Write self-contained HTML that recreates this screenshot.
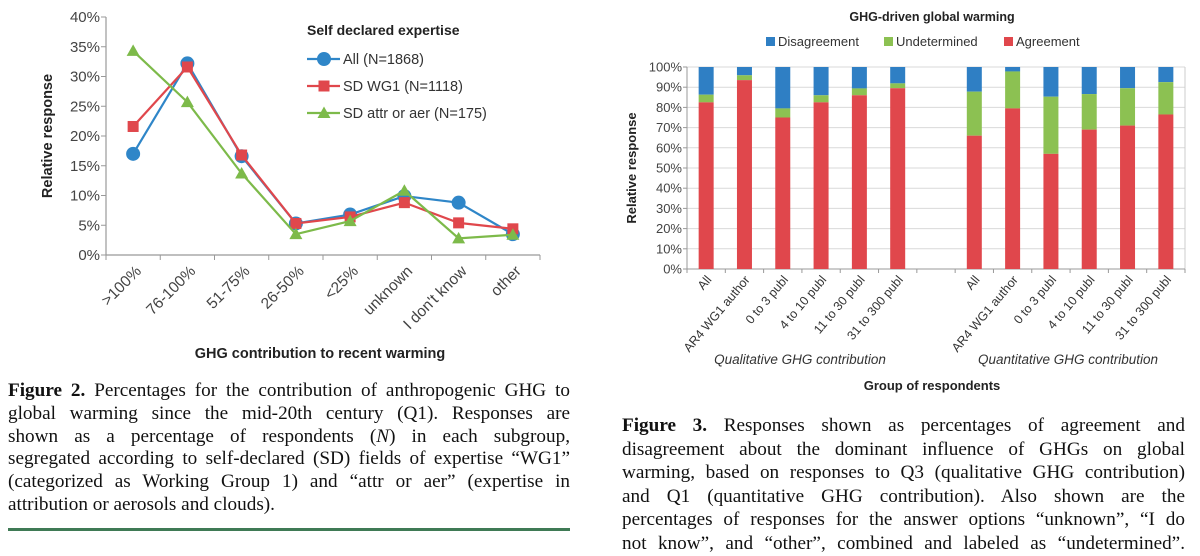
<!DOCTYPE html>
<html><head><meta charset="utf-8">
<style>
body{margin:0;width:1200px;height:537px;overflow:hidden;background:#fff;position:relative;font-family:"Liberation Sans",sans-serif;}
.cap{position:absolute;font-family:"Liberation Serif",serif;font-size:19.2px;color:#111;}
.cap div{text-align:justify;text-align-last:justify;height:22.8px;line-height:22.8px;white-space:nowrap;}
.cap div.last{text-align-last:left;}
svg text{font-family:"Liberation Sans",sans-serif;}
</style></head><body>
<svg id="left" width="600" height="370" style="position:absolute;left:0;top:0"></svg>
<svg id="right" width="600" height="400" style="position:absolute;left:600px;top:0"></svg>

<div class="cap" style="left:8px;top:380px;width:562px;">
<div><b>Figure 2.</b> Percentages for the contribution of anthropogenic GHG to</div>
<div>global warming since the mid-20th century (Q1). Responses are</div>
<div>shown as a percentage of respondents (<i>N</i>) in each subgroup,</div>
<div>segregated according to self-declared (SD) fields of expertise “WG1”</div>
<div>(categorized as Working Group 1) and “attr or aer” (expertise in</div>
<div class="last">attribution or aerosols and clouds).</div>
</div>
<div style="position:absolute;left:8px;top:528px;width:562px;height:3px;background:#3f7a55"></div>

<div class="cap" style="left:622px;top:414px;width:563px;">
<div style="height:23.6px;line-height:23.6px"><b>Figure 3.</b> Responses shown as percentages of agreement and</div>
<div style="height:23.6px;line-height:23.6px">disagreement about the dominant influence of GHGs on global</div>
<div style="height:23.6px;line-height:23.6px">warming, based on responses to Q3 (qualitative GHG contribution)</div>
<div style="height:23.6px;line-height:23.6px">and Q1 (quantitative GHG contribution). Also shown are the</div>
<div style="height:23.6px;line-height:23.6px">percentages of responses for the answer options “unknown”, “I do</div>
<div style="height:23.6px;line-height:23.6px">not know”, and “other”, combined and labeled as “undetermined”.</div>
</div>

<script>
const NS='http://www.w3.org/2000/svg';
function mk(parent,tag,attrs,text){const e=document.createElementNS(NS,tag);for(const k in attrs)e.setAttribute(k,attrs[k]);if(text!==undefined)e.textContent=text;parent.appendChild(e);return e;}

/* ---- left chart data ---- */
const lineCategories=['>100%','76-100%','51-75%','26-50%','<25%','unknown',"I don't know",'other'];
const seriesAll=[17,32.2,16.6,5.3,6.8,9.9,8.8,3.5];
const seriesWG1=[21.6,31.6,16.8,5.3,6.4,8.8,5.4,4.4];
const seriesAttr=[34.3,25.7,13.7,3.5,5.7,10.8,2.8,3.4];
const lineYTicks=[0,5,10,15,20,25,30,35,40];

(function(){
  const s=document.getElementById('left');
  const L=106,R=540,T=17,B=255;
  const slot=(R-L)/lineCategories.length;
  const x=i=>L+slot*(i+0.5);
  const y=v=>B-(v/40)*(B-T);
  const ax=mk(s,'g',{});
  
  
  mk(ax,'line',{x1:L,y1:T,x2:L,y2:B,stroke:'#999','stroke-width':1.2});
  lineYTicks.forEach(t=>{
    mk(ax,'line',{x1:L-5,y1:y(t),x2:L,y2:y(t),stroke:'#999'});
    const tx=mk(ax,'text',{x:L-6,y:y(t)+5,'text-anchor':'end','font-size':15,fill:'#444'},t+'%');
    
    
  });
  const xa=mk(s,'g',{});
  
  
  mk(xa,'line',{x1:L,y1:B,x2:R,y2:B,stroke:'#999','stroke-width':1.2});
  for(let i=0;i<=lineCategories.length;i++)mk(xa,'line',{x1:L+slot*i,y1:B,x2:L+slot*i,y2:B+5,stroke:'#999'});
  lineCategories.forEach((c,i)=>{
    const t=mk(xa,'text',{x:0,y:0,'text-anchor':'end','font-size':15.5,fill:'#444',transform:`translate(${x(i)+9},${B+17}) rotate(-45)`},c);
    
    
  });
  const yt=mk(s,'text',{x:0,y:0,'text-anchor':'middle','font-size':14.5,'font-weight':'bold',fill:'#222',transform:`translate(52,136) rotate(-90)`},'Relative response');
  
  
  const xt=mk(s,'text',{x:320,y:358,'text-anchor':'middle','font-size':14.5,'font-weight':'bold',fill:'#222'},'GHG contribution  to recent warming');
  
  

  function marker(g,type,cx,cy,col){
    if(type==='c')mk(g,'circle',{cx,cy,r:7,fill:col});
    else if(type==='s')mk(g,'rect',{x:cx-5.5,y:cy-5.5,width:11,height:11,fill:col});
    else mk(g,'polygon',{points:`${cx},${cy-6.5} ${cx+6.5},${cy+5} ${cx-6.5},${cy+5}`,fill:col});
  }
  const series=[[seriesAll,'#2f86c8','c','series-all'],[seriesWG1,'#e0474c','s','series-sd-wg1'],[seriesAttr,'#7dba4a','t','series-sd-attr-aer']];
  series.forEach(([d,col,m,name])=>{
    const g=mk(s,'g',{});
    
    
    mk(g,'polyline',{points:d.map((v,i)=>x(i)+','+y(v)).join(' '),fill:'none',stroke:col,'stroke-width':2.2});
    d.forEach((v,i)=>marker(g,m,x(i),y(v),col));
  });
  const lg=mk(s,'g',{});
  
  
  mk(lg,'text',{x:307,y:35,'font-size':14,'font-weight':'bold',fill:'#222'},'Self declared expertise');
  const labels=['All (N=1868)','SD WG1 (N=1118)','SD attr or aer (N=175)'];
  series.forEach(([d,col,m],k)=>{
    const yy=59+k*27;
    const e=mk(lg,'g',{});
    
    
    mk(e,'line',{x1:307,y1:yy,x2:340,y2:yy,stroke:col,'stroke-width':2.2});
    marker(e,m,324,yy,col);
    mk(e,'text',{x:343,y:yy+5,'font-size':14.5,fill:'#333'},labels[k]);
  });
})();

/* ---- right chart data ---- */
const barCategories=['All','AR4 WG1 author','0 to 3 publ','4 to 10 publ','11 to 30 publ','31 to 300 publ','','All','AR4 WG1 author','0 to 3 publ','4 to 10 publ','11 to 30 publ','31 to 300 publ'];
const agreement=[82.5,93.5,75,82.5,86,89.5,null,66,79.5,57,69,71,76.5];
const undetermined=[3.8,2.4,4.5,3.5,3.4,2.4,null,21.8,18.3,28.3,17.6,18.5,16];
const barYTicks=[0,10,20,30,40,50,60,70,80,90,100];

(function(){
  const s=document.getElementById('right');
  const L=87,R=585,T=67,B=269;
  const slot=(R-L)/barCategories.length;
  const x=i=>L+slot*(i+0.5);
  const y=v=>B-(v/100)*(B-T);
  const tt=mk(s,'text',{x:332,y:21,'text-anchor':'middle','font-size':12.5,'font-weight':'bold',fill:'#222'},'GHG-driven global warming');
  
  
  const lg=mk(s,'g',{});
  
  
  [['Disagreement','#2f7fc4',166],['Undetermined','#8cc152',284],['Agreement','#e0474c',404]].forEach(([t,c,lx])=>{
    const e=mk(lg,'g',{});
    
    
    mk(e,'rect',{x:lx,y:37,width:9,height:9,fill:c});
    mk(e,'text',{x:lx+12,y:46,'font-size':13,fill:'#333'},t);
  });
  const grid=mk(s,'g',{});
  
  
  barYTicks.forEach(t=>{
    mk(grid,'line',{x1:L,y1:y(t),x2:R,y2:y(t),stroke:'#d9d9d9'});
    mk(grid,'line',{x1:L-4,y1:y(t),x2:L,y2:y(t),stroke:'#999'});
    const tx=mk(grid,'text',{x:L-5,y:y(t)+4.5,'text-anchor':'end','font-size':13,fill:'#444'},t+'%');
    
    
  });
  mk(grid,'line',{x1:L,y1:T,x2:L,y2:B,stroke:'#999'});
  mk(grid,'line',{x1:R,y1:T,x2:R,y2:B,stroke:'#ccc'});
  const xa=mk(s,'g',{});
  
  
  mk(xa,'line',{x1:L,y1:B,x2:R,y2:B,stroke:'#999'});
  for(let i=0;i<=barCategories.length;i++)mk(xa,'line',{x1:L+slot*i,y1:B,x2:L+slot*i,y2:B+4,stroke:'#999'});
  const bw=15;
  barCategories.forEach((c,i)=>{
    if(agreement[i]!==null){
      const g=mk(s,'g',{});
      
      
      const a=agreement[i],u=undetermined[i];
      mk(g,'rect',{x:x(i)-bw/2,y:y(100),width:bw,height:y(a+u)-y(100),fill:'#2f7fc4'});
      mk(g,'rect',{x:x(i)-bw/2,y:y(a+u),width:bw,height:y(a)-y(a+u),fill:'#8cc152'});
      mk(g,'rect',{x:x(i)-bw/2,y:y(a),width:bw,height:y(0)-y(a),fill:'#e0474c'});
    }
    if(c){
      const t=mk(xa,'text',{x:0,y:0,'text-anchor':'end','font-size':12.5,fill:'#333',transform:`translate(${x(i)+6},${B+11}) rotate(-50)`},c);
      
      
    }
  });
  const g1=mk(s,'text',{x:200,y:364,'text-anchor':'middle','font-size':13.5,'font-style':'italic',fill:'#333'},'Qualitative GHG contribution');
  
  
  const g2=mk(s,'text',{x:468,y:364,'text-anchor':'middle','font-size':13.5,'font-style':'italic',fill:'#333'},'Quantitative GHG contribution');
  
  
  const xt=mk(s,'text',{x:332,y:390,'text-anchor':'middle','font-size':13,'font-weight':'bold',fill:'#222'},'Group of respondents');
  
  
  const yt=mk(s,'text',{x:0,y:0,'text-anchor':'middle','font-size':13,'font-weight':'bold',fill:'#222',transform:'translate(36,168) rotate(-90)'},'Relative response');
  
  
})();
</script>
</body></html>
